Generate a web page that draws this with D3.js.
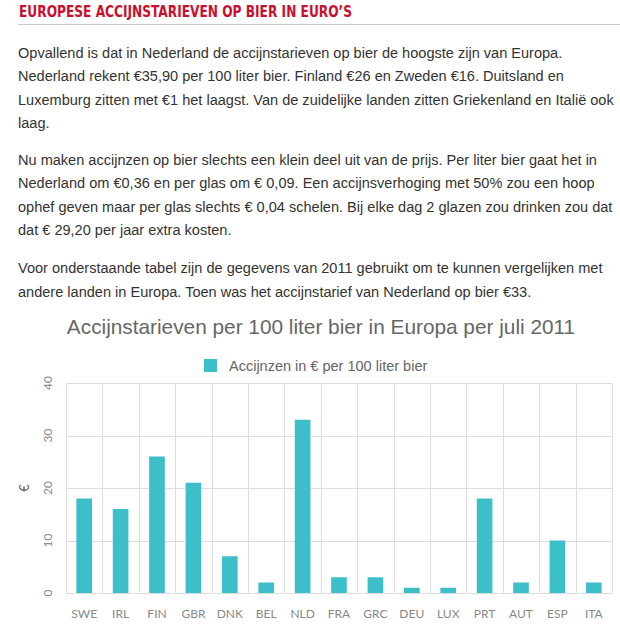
<!DOCTYPE html>
<html>
<head>
<meta charset="utf-8">
<script src="https://cdn.jsdelivr.net/npm/d3@7"></script>
<style>
  body { margin: 0; background: #fff; }
  svg { display: block; }
</style>
</head>
<body>
<div id="chart"></div>
<script>
// Gegevens uit de grafiek (accijns in euro per 100 liter bier, juli 2011)
var landen = ["SWE", "IRL", "FIN", "GBR", "DNK", "BEL", "NLD", "FRA", "GRC", "DEU", "LUX", "PRT", "AUT", "ESP", "ITA"];
var accijns = [18, 16, 26, 21, 7, 2, 33, 3, 3, 1, 1, 18, 2, 10, 2];
var yTicks = [0, 10, 20, 30, 40];

var kop = "EUROPESE ACCIJNSTARIEVEN OP BIER IN EURO\u2019S";
var alineas = [
  ["Opvallend is dat in Nederland de accijnstarieven op bier de hoogste zijn van Europa.",
   "Nederland rekent \u20ac35,90 per 100 liter bier. Finland \u20ac26 en Zweden \u20ac16. Duitsland en",
   "Luxemburg zitten met \u20ac1 het laagst. Van de zuidelijke landen zitten Griekenland en Itali\u00eb ook",
   "laag."],
  ["Nu maken accijnzen op bier slechts een klein deel uit van de prijs. Per liter bier gaat het in",
   "Nederland om \u20ac0,36 en per glas om \u20ac 0,09. Een accijnsverhoging met 50% zou een hoop",
   "ophef geven maar per glas slechts \u20ac 0,04 schelen. Bij elke dag 2 glazen zou drinken zou dat",
   "dat \u20ac 29,20 per jaar extra kosten."],
  ["Voor onderstaande tabel zijn de gegevens van 2011 gebruikt om te kunnen vergelijken met",
   "andere landen in Europa. Toen was het accijnstarief van Nederland op bier \u20ac33."]
];
var titel = "Accijnstarieven per 100 liter bier in Europa per juli 2011";
var legendaTekst = "Accijnzen in \u20ac per 100 liter bier";

var W = 620, H = 640;
var svg = d3.select("#chart").append("svg")
    .attr("width", W)
    .attr("height", H);

// kop + lijn
svg.append("text")
    .attr("x", 19).attr("y", 17)
    .attr("font-family", "'Liberation Sans Narrow', 'DejaVu Sans Condensed', sans-serif")
    .attr("font-weight", "bold")
    .attr("font-size", 16.5)
    .attr("fill", "#c8102e")
    .attr("textLength", 333)
    .attr("lengthAdjust", "spacingAndGlyphs")
    .text(kop);

svg.append("line")
    .attr("x1", 18).attr("x2", W)
    .attr("y1", 24.5).attr("y2", 24.5)
    .attr("stroke", "#c8c8c8");

// tekst
var lineH = 23.5;
var alineaStart = [57.5, 164.5, 273];
alineas.forEach(function(regels, a) {
    regels.forEach(function(r, i) {
        svg.append("text")
            .attr("x", 18)
            .attr("y", alineaStart[a] + i * lineH)
            .attr("font-family", "'Liberation Sans', Arial, sans-serif")
            .attr("font-size", 14.55)
            .attr("fill", "#333")
            .text(r);
    });
});

// grafiek
var margin = {left: 66, right: 8, top: 383, bottom: 47};
var x = d3.scaleBand()
    .domain(landen)
    .range([margin.left, W - margin.right])
    .paddingInner(0)
    .paddingOuter(0);

var y = d3.scaleLinear()
    .domain([0, 40])
    .range([H - margin.bottom, margin.top]);

svg.append("text")
    .attr("x", 321).attr("y", 334)
    .attr("text-anchor", "middle")
    .attr("font-family", "'Liberation Sans', Arial, sans-serif")
    .attr("font-size", 20.8)
    .attr("fill", "#666")
    .text(titel);

// legenda
svg.append("rect")
    .attr("x", 204).attr("y", 359)
    .attr("width", 13).attr("height", 13)
    .attr("fill", "#3dbfc9");
svg.append("text")
    .attr("x", 229).attr("y", 371)
    .attr("font-family", "'Liberation Sans', Arial, sans-serif")
    .attr("font-size", 14.5)
    .attr("fill", "#666")
    .text(legendaTekst);

// rasterlijnen
svg.append("g")
    .selectAll("line")
    .data(yTicks)
    .enter().append("line")
    .attr("x1", margin.left).attr("x2", W - margin.right)
    .attr("y1", d => Math.round(y(d)) + 0.5)
    .attr("y2", d => Math.round(y(d)) + 0.5)
    .attr("stroke", "#ddd");

var randen = landen.map(d => x(d)).concat([x.range()[1]]);
svg.append("g")
    .selectAll("line")
    .data(randen)
    .enter().append("line")
    .attr("x1", d => Math.round(d) + 0.5)
    .attr("x2", d => Math.round(d) + 0.5)
    .attr("y1", y(40)).attr("y2", y(0))
    .attr("stroke", "#ddd");

// balken
var barW = x.bandwidth() * 0.43;
svg.selectAll(".bar")
    .data(landen)
    .enter().append("rect")
    .attr("class", "bar")
    .attr("x", (d) => x(d) + (x.bandwidth() - barW) / 2)
    .attr("y", (d, i) => y(accijns[i]))
    .attr("width", barW)
    .attr("height", (d, i) => y(0) - y(accijns[i]))
    .attr("fill", "#3dbfc9");

// x-as labels
var xAs = svg.append("g")
    .attr("transform", "translate(0," + (y(0) + 12) + ")")
    .call(d3.axisBottom(x).tickSize(0).tickPadding(4));
xAs.select(".domain").remove();
xAs.selectAll("text")
    .attr("font-family", "Lato, 'Open Sans', sans-serif")
    .attr("font-size", 12)
    .attr("fill", "#888");

// y-as labels (gedraaid)
svg.append("clipPath").attr("id", "yclip")
    .append("rect").attr("x", 0).attr("y", 0).attr("width", 66).attr("height", y(0) + 3);

svg.append("g")
    .attr("clip-path", "url(#yclip)")
    .selectAll("text")
    .data(yTicks)
    .enter().append("text")
    .attr("transform", d => "translate(52," + y(d) + ") rotate(-90)")
    .attr("text-anchor", "middle")
    .attr("font-family", "Lato, 'Open Sans', sans-serif")
    .attr("font-size", 12)
    .attr("fill", "#888")
    .text(d => d);

svg.append("text")
    .attr("transform", "translate(29," + y(20) + ") rotate(-90)")
    .attr("text-anchor", "middle")
    .attr("font-family", "Lato, 'Open Sans', sans-serif")
    .attr("font-size", 13)
    .attr("fill", "#666")
    .text("\u20ac");
</script>
</body>
</html>
